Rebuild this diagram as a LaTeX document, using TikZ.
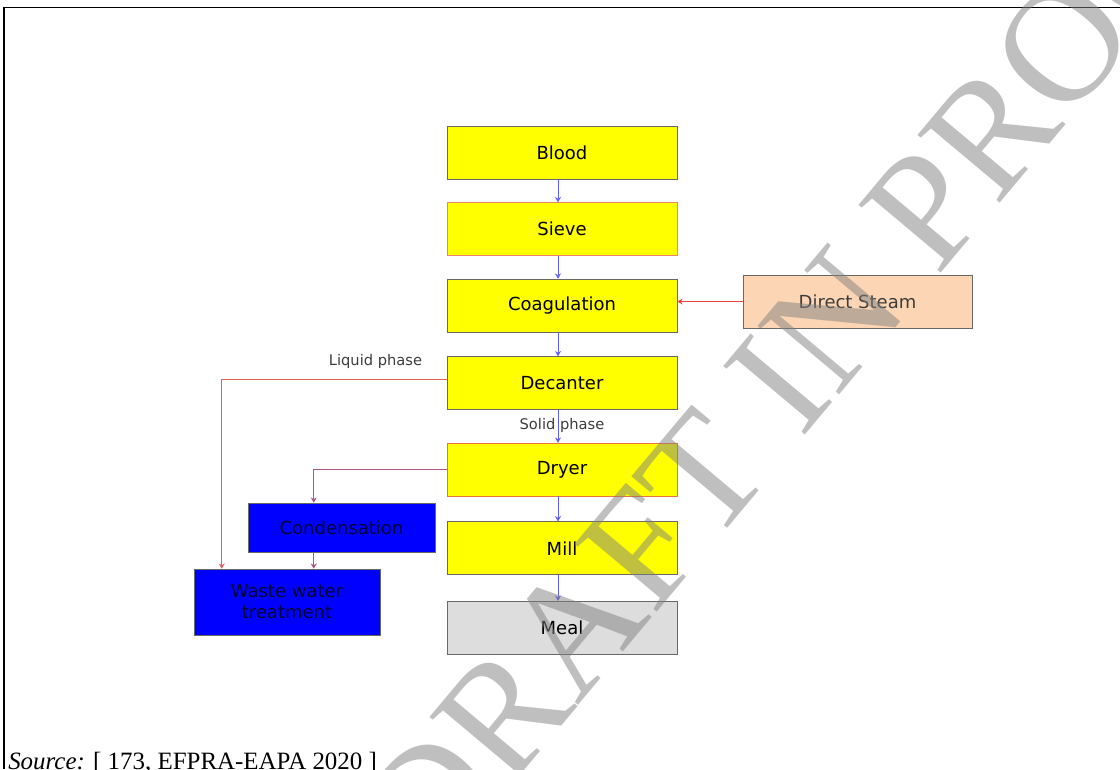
\documentclass[tikz,border=0pt]{standalone}
\usepackage{fontspec}
\setmainfont{Liberation Serif}
\newfontfamily\diagfont{DejaVu Sans}
\usetikzlibrary{arrows.meta,positioning}
\definecolor{boxyellow}{RGB}{255,255,0}
\definecolor{boxline}{RGB}{105,105,100}
\definecolor{sieveline}{RGB}{240,130,110}
\definecolor{dryerline}{RGB}{235,115,60}
\definecolor{mealgray}{RGB}{221,221,221}
\definecolor{steampeach}{RGB}{252,213,180}
\definecolor{wasteblue}{RGB}{0,0,255}
\definecolor{flowblue}{RGB}{95,95,255}
\definecolor{steamred}{RGB}{240,70,70}
\definecolor{liquidred}{RGB}{228,95,95}
\definecolor{vapourmauve}{RGB}{175,85,135}
\definecolor{lblgray}{RGB}{60,60,60}

\begin{document}
\begin{tikzpicture}[
    x=0.75pt, y=-0.75pt,
    node distance=17.25pt,
    box/.style={rectangle, draw=boxline, fill=boxyellow, minimum width=172.5pt, minimum height=39.75pt, inner sep=0pt, align=center, font=\diagfont\fontsize{13.5pt}{15.75pt}\selectfont},
    lbl/.style={inner sep=0pt, text=lblgray, font=\diagfont\fontsize{11pt}{13pt}\selectfont},
    arrow/.style={-{Stealth[length=4pt,width=4.5pt]}, flowblue, line width=0.6pt},
    sidearrow/.style={-{Stealth[length=4pt,width=4.5pt]}, line width=0.6pt},
    watermark/.style={inner sep=0pt, text=black!50, text opacity=0.5, font=\fontsize{122pt}{122pt}\selectfont}
]
    \useasboundingbox (0,0) rectangle (1120,769);
    \draw[line width=1.1pt] (1120,7.5) -- (4,7.5) -- (4,769);

    % main column
    \node[box] (blood) at (562,152.5) {Blood};
    \node[box, draw=sieveline, below=of blood] (sieve) {Sieve};
    \node[box, below=of sieve] (coag) {Coagulation};
    \node[box, below=18pt of coag] (dec) {Decanter};
    \node[box, draw=dryerline, below=24.75pt of dec] (dryer) {Dryer};
    \node[box, below=18.75pt of dryer] (mill) {Mill};
    \node[box, fill=mealgray, below=19.5pt of mill] (meal) {Meal};

    % side boxes
    \node[box, fill=steampeach, minimum width=171.75pt, text=lblgray] (steam) at (857.5,301.5) {Direct Steam};
    \node[box, fill=wasteblue, minimum width=140.25pt, minimum height=36.75pt, text=black!80!blue] (cond) at (341.5,527.5) {Condensation};
    \node[box, fill=wasteblue, minimum width=139.5pt, minimum height=49.5pt, text=black!80!blue] (waste) at (287,602) {Waste water\\treatment};

    \draw[arrow] ([xshift=-3pt]blood.south) -- ([xshift=-3pt]sieve.north);
    \draw[arrow] ([xshift=-3pt]sieve.south) -- ([xshift=-3pt]coag.north);
    \draw[arrow] ([xshift=-3pt]coag.south) -- ([xshift=-3pt]dec.north);
    \draw[arrow] ([xshift=-3pt]dec.south) -- ([xshift=-3pt]dryer.north);
    \draw[arrow] ([xshift=-3pt]dryer.south) -- ([xshift=-3pt]mill.north);
    \draw[arrow] ([xshift=-3pt]mill.south) -- ([xshift=-3pt]meal.north);

    \draw[sidearrow, steamred] (steam.west) -- (steam.west -| coag.east);
    \draw[sidearrow, liquidred] ([yshift=2.5pt]dec.west) -| ([xshift=21pt]waste.north west);
    \draw[sidearrow, vapourmauve] (dryer.west) -| ([xshift=49.5pt]cond.north west);
    \draw[sidearrow, vapourmauve] ([xshift=49.5pt]cond.south west) -- ([xshift=49.5pt]cond.south west |- waste.north);

    \node[lbl] (liquid) at (375.5,361) {Liquid phase};
    \node[lbl] (solid) at (562,425) {Solid phase};

    \node[anchor=base west, inner sep=0pt, font=\fontsize{18.7pt}{22pt}\selectfont] (src) at (8,769) {\textit{Source:} [ 173, EFPRA-EAPA 2020 ]};

    \node[watermark, rotate=50] (wm) at (909,229) {DRAFT IN PROGRESS};
\end{tikzpicture}
\end{document}
